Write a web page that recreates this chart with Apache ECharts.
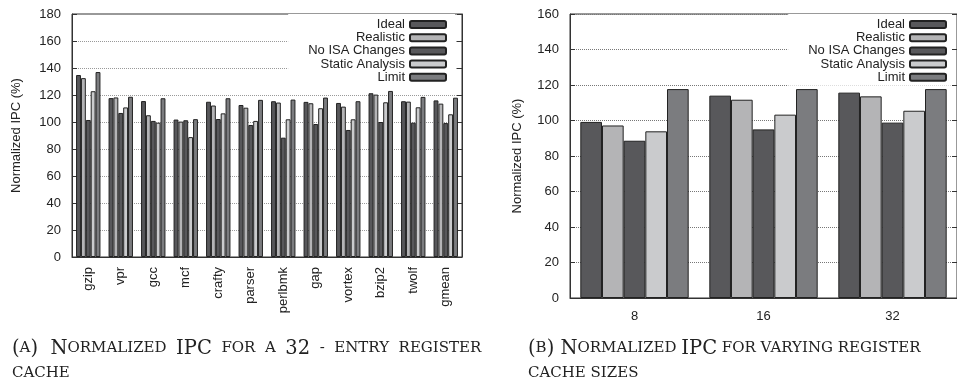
<!DOCTYPE html>
<html><head><meta charset="utf-8">
<script src="https://cdn.jsdelivr.net/npm/echarts@6/dist/echarts.min.js"></script>
<style>html,body{margin:0;padding:0;background:#fff}#c{width:957px;height:386px}</style>
</head><body><div id="c"></div>
<script>
// ---- Data ----
const seriesNames = ['Ideal', 'Realistic', 'No ISA Changes', 'Static Analysis', 'Limit'];
const benchCategories = ['gzip', 'vpr', 'gcc', 'mcf', 'crafty', 'parser', 'perlbmk', 'gap', 'vortex', 'bzip2', 'twolf', 'gmean'];
const benchIdeal      = [134.8, 117.7, 115.5, 101.8, 115.0, 112.6, 115.4, 114.9, 114.1, 121.3, 115.4, 116.0];
const benchRealistic  = [132.5, 118.2, 105.0, 100.3, 112.2, 110.6, 114.4, 113.9, 111.4, 120.3, 115.1, 113.6];
const benchNoISA      = [101.5, 106.7, 100.8, 101.3, 102.2,  97.8,  88.4,  98.5,  94.1, 100.0,  99.5,  99.2];
const benchStatic     = [122.8, 110.8,  99.5,  88.8, 106.4, 100.8, 102.0, 110.2, 102.0, 114.6, 110.9, 105.7];
const benchLimit      = [137.0, 118.7, 117.6, 102.1, 117.6, 116.4, 116.6, 118.1, 115.4, 123.0, 118.6, 118.0];

const sizeCategories = ['8', '16', '32'];
const sizeIdeal     = [99.2, 114.0, 115.7];
const sizeRealistic = [97.2, 111.7, 113.6];
const sizeNoISA     = [88.6,  95.0,  98.8];
const sizeStatic    = [93.9, 103.3, 105.5];
const sizeLimit     = [117.7, 117.7, 117.7];

const yTicksA = { min: 0, max: 180, interval: 20 };
const yTicksB = { min: 0, max: 160, interval: 20 };

// ---- Styles ----
const colors = ['#58585b', '#b4b4b6', '#58585b', '#cacbcd', '#7b7c7f'];
const font = 'Liberation Sans, Arial, sans-serif';
const serif = 'DejaVu Serif, serif';

const benchData = [benchIdeal, benchRealistic, benchNoISA, benchStatic, benchLimit];
const sizeData = [sizeIdeal, sizeRealistic, sizeNoISA, sizeStatic, sizeLimit];

function mkSeries(dataSets, xi, yi, gap) {
  return dataSets.map((d, i) => ({
    name: seriesNames[i], type: 'bar', xAxisIndex: xi, yAxisIndex: yi,
    data: d, barGap: '0%', barCategoryGap: gap,
    itemStyle: { color: colors[i], borderColor: '#222', borderWidth: 1 },
    emphasis: { disabled: true }, animation: false
  }));
}

function yAxes(t, gi, nameGap, gridColor) {
  return [
    { type: 'value', gridIndex: gi, position: 'left', min: t.min, max: t.max, interval: t.interval,
      name: 'Normalized IPC (%)', nameLocation: 'middle', nameGap: nameGap,
      nameTextStyle: { fontFamily: font, fontSize: 13, color: '#222' },
      axisLine: { show: true, lineStyle: { color: '#333', width: 1 } },
      axisTick: { show: true, inside: true, length: 5, lineStyle: { color: '#333' } },
      axisLabel: { fontFamily: font, fontSize: 13, color: '#222', margin: 11 },
      splitLine: { show: true, lineStyle: { type: 'dotted', color: gridColor, width: 1 } } },
    { type: 'value', gridIndex: gi, position: 'right', min: t.min, max: t.max, interval: t.interval,
      axisLine: { show: true, lineStyle: { color: '#333', width: 1 } },
      axisTick: { show: true, inside: true, length: 5, lineStyle: { color: '#333' } },
      axisLabel: { show: false }, splitLine: { show: false } }
  ];
}

const chart = echarts.init(document.getElementById('c'), null, { renderer: 'canvas' });
const legendBase = {
  orient: 'vertical', align: 'right', itemWidth: 36, itemHeight: 7, itemGap: 0.2,
  backgroundColor: '#fff', selectedMode: false,
  textStyle: { fontFamily: font, fontSize: 13, color: '#222', lineHeight: 13 },
  data: seriesNames
};
const capRich = {
  b: { fontFamily: serif, fontSize: 19.5, fontWeight: 'normal', color: '#222', lineHeight: 25 },
  s: { fontFamily: serif, fontSize: 15, fontWeight: 'normal', color: '#222', lineHeight: 25 }
};
chart.setOption({
  animation: false,
  grid: [
    { left: 72, top: 14, width: 390, height: 243, show: true, borderColor: '#333', borderWidth: 1, backgroundColor: 'transparent' },
    { left: 570, top: 14, width: 391.5, height: 284, show: true, borderColor: '#333', borderWidth: 1, backgroundColor: 'transparent' }
  ],
  xAxis: [
    { type: 'category', gridIndex: 0, data: benchCategories,
      axisLine: { lineStyle: { color: '#333' } },
      axisTick: { alignWithLabel: true, length: 4, lineStyle: { color: '#333' } },
      axisLabel: { rotate: 90, fontFamily: font, fontSize: 13, color: '#222', margin: 10 } },
    { type: 'category', gridIndex: 1, data: sizeCategories,
      axisLine: { lineStyle: { color: '#333' } },
      axisTick: { alignWithLabel: true, length: 4, lineStyle: { color: '#333' } },
      axisLabel: { fontFamily: font, fontSize: 13, color: '#222', margin: 12 } }
  ],
  yAxis: [...yAxes(yTicksA, 0, 49, '#999'), ...yAxes(yTicksB, 1, 46, '#777')],
  legend: [
    Object.assign({}, legendBase, { right: 502, top: 14, padding: [4, 8, 3, 20] }),
    Object.assign({}, legendBase, { right: 5, top: 14, padding: [4, 5, 2, 20] })
  ],
  title: [
    { left: 7, top: 331, text: '{b|(}{s|A}{b|)  N}{s|ORMALIZED  }{b|IPC}{s|  FOR  A  }{b|32}{s|  -  ENTRY  REGISTER}\n{s|CACHE}',
      textStyle: { fontWeight: 'normal', rich: capRich } },
    { left: 523, top: 331, text: '{b|(}{s|B}{b|) N}{s|ORMALIZED }{b|IPC}{s| FOR VARYING REGISTER}\n{s|CACHE SIZES}',
      textStyle: { fontWeight: 'normal', rich: capRich } }
  ],
  series: [...mkSeries(benchData, 0, 0, '25%'), ...mkSeries(sizeData, 1, 2, '16%')]
});
</script></body></html>
